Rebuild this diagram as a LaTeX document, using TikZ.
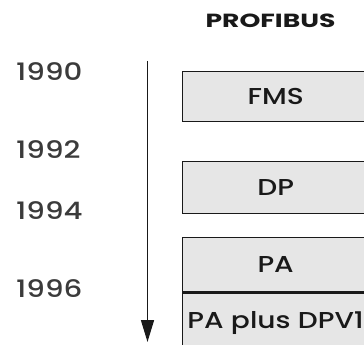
\documentclass[tikz,border=0pt]{standalone}
\usepackage{fontspec}
\usetikzlibrary{arrows.meta}
\newfontfamily\geo[FakeStretch=1.22]{Poppins Medium}
\newfontfamily\geobold[FakeStretch=1.4]{Poppins Bold}
\definecolor{boxgray}{RGB}{230,230,230}
\definecolor{ink}{RGB}{25,25,25}
\tikzset{
  layer/.style={draw=ink, line width=1.3pt, fill=boxgray, rectangle,
    minimum width=186pt, inner sep=0pt, anchor=north west,
    font=\geo\fontsize{23}{26}\selectfont, text=ink},
  year/.style={anchor=base west, inner sep=0pt,
    font=\geo\fontsize{24}{26}\selectfont, text=ink!85},
  title/.style={inner sep=0pt, font=\geobold\fontsize{19}{22}\selectfont, text=ink}
}
\begin{document}
\begin{tikzpicture}[x=1pt,y=-1pt]
  \useasboundingbox (0,0) rectangle (364,345);
  \clip (0,0) rectangle (364,345);
  \fill[white] (0,0) rectangle (364,345);

  % heading
  \node[title] (head) at (270.5,21) {PROFIBUS};

  % year scale
  \node[year] (y90) at (16,81) {1990};
  \node[year] (y92) at (16,158) {1992};
  \node[year] (y94) at (16,219) {1994};
  \node[year] (y96) at (16,297) {1996};

  % protocol layers
  \node[layer, minimum height=50pt] (fms) at (182,71) {FMS};
  \node[layer, minimum height=52pt] (dp) at (182,161) {DP};
  \node[layer, minimum height=54pt] (pa) at (182,237) {PA};
  \node[layer, minimum height=60pt, anchor=north west] (padp) at (pa.south west) {PA plus DPV1};

  % time axis
  \coordinate (tstart) at (147.5,61);
  \coordinate (tend) at (147.5,342);
  \draw[ink, line width=1.5pt, -{Triangle[length=22pt,width=13pt]}] (tstart) -- (tend);
\end{tikzpicture}
\end{document}
